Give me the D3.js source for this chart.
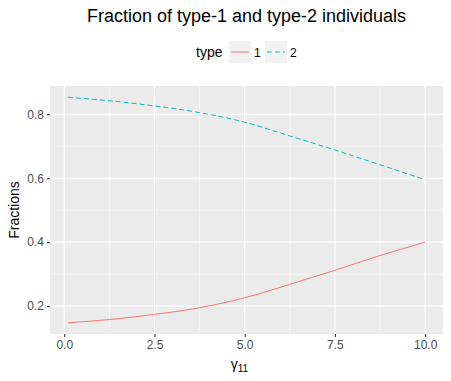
<!DOCTYPE html>
<html>
<head>
<meta charset="utf-8">
<script src="https://cdn.jsdelivr.net/npm/d3@7"></script>
<style>
  body { margin: 0; background: #fff; }
  text { font-family: "Liberation Sans", Arial, sans-serif; }
</style>
</head>
<body>
<svg id="chart" width="451" height="381"></svg>
<script>
// values
var gamma = [0.1, 1.25, 2.5, 3.75, 5.0, 6.25, 7.5, 8.75, 10.0];
var type1 = [0.148, 0.158, 0.174, 0.195, 0.226, 0.268, 0.312, 0.358, 0.400];
var type2 = [0.853, 0.842, 0.826, 0.805, 0.775, 0.732, 0.688, 0.642, 0.595];
var xTicks = [0, 2.5, 5, 7.5, 10];
var yTicks = [0.2, 0.4, 0.6, 0.8];
var types = ["1", "2"];
var colors = ["#F8766D", "#00BFC4"];
var dashes = [null, "5,3"];

var svg = d3.select("#chart");
var margin = {left: 50, right: 8, top: 86, bottom: 47};
var width = 451 - margin.left - margin.right;
var height = 381 - margin.top - margin.bottom;

var x = d3.scaleLinear().domain([-0.395, 10.495]).range([0, width]);
var y = d3.scaleLinear().domain([0.1128, 0.8882]).range([height, 0]);

var g = svg.append("g").attr("transform", "translate(" + margin.left + "," + margin.top + ")");

g.append("rect").attr("width", width).attr("height", height).attr("fill", "#EBEBEB");

// minor grid
var xMinor = [1.25, 3.75, 6.25, 8.75];
var yMinor = [0.3, 0.5, 0.7];
g.selectAll(".xminor").data(xMinor).enter().append("line")
    .attr("x1", function(d) { return x(d); }).attr("x2", function(d) { return x(d); })
    .attr("y1", 0).attr("y2", height)
    .attr("stroke", "#fff").attr("stroke-width", 0.55);
g.selectAll(".yminor").data(yMinor).enter().append("line")
    .attr("y1", function(d) { return y(d); }).attr("y2", function(d) { return y(d); })
    .attr("x1", 0).attr("x2", width)
    .attr("stroke", "#fff").attr("stroke-width", 0.55);

// major grid
g.selectAll(".xmajor").data(xTicks).enter().append("line")
    .attr("x1", function(d) { return x(d); }).attr("x2", function(d) { return x(d); })
    .attr("y1", 0).attr("y2", height)
    .attr("stroke", "#fff").attr("stroke-width", 1.1);
g.selectAll(".ymajor").data(yTicks).enter().append("line")
    .attr("y1", function(d) { return y(d); }).attr("y2", function(d) { return y(d); })
    .attr("x1", 0).attr("x2", width)
    .attr("stroke", "#fff").attr("stroke-width", 1.1);

// lines
var line = d3.line()
    .x(function(d) { return x(d[0]); })
    .y(function(d) { return y(d[1]); })
    .curve(d3.curveMonotoneX);

[type1, type2].forEach(function(s, i) {
    g.append("path")
        .datum(gamma.map(function(v, j) { return [v, s[j]]; }))
        .attr("d", line)
        .attr("fill", "none")
        .attr("stroke", colors[i])
        .attr("stroke-width", 1)
        .attr("stroke-dasharray", dashes[i]);
});

// axes
var xAxis = g.append("g").attr("transform", "translate(0," + height + ")")
    .call(d3.axisBottom(x).tickValues(xTicks).tickFormat(d3.format(".1f")).tickSize(3).tickPadding(3));
var yAxis = g.append("g")
    .call(d3.axisLeft(y).tickValues(yTicks).tickFormat(d3.format(".1f")).tickSize(3).tickPadding(3));
[xAxis, yAxis].forEach(function(a) {
    a.select(".domain").remove();
    a.selectAll(".tick line").attr("stroke", "#333333").attr("stroke-width", 1.1);
    a.selectAll(".tick text").attr("fill", "#4D4D4D").style("font-size", "12px")
        .style("font-family", "'Liberation Sans', Arial, sans-serif");
});

// titles
svg.append("text")
    .attr("x", margin.left + width / 2).attr("y", 22)
    .attr("text-anchor", "middle").style("font-size", "18px").attr("fill", "#000")
    .text("Fraction of type-1 and type-2 individuals");

svg.append("text")
    .attr("transform", "translate(19," + (margin.top + height / 2) + ") rotate(-90)")
    .attr("text-anchor", "middle").style("font-size", "14px").attr("fill", "#000")
    .text("Fractions");

var xl = svg.append("text")
    .attr("x", margin.left + width / 2 - 7).attr("y", 369)
    .attr("text-anchor", "middle").style("font-size", "14px").attr("fill", "#000");
xl.append("tspan").text("γ");
xl.append("tspan").attr("dy", 3).style("font-size", "10px").text("11");

// legend
var leg = svg.append("g");
leg.append("text").attr("x", 196).attr("y", 57).style("font-size", "14px").attr("fill", "#000").text("type");
var keyX = [229, 265];
types.forEach(function(t, i) {
    leg.append("rect").attr("x", keyX[i]).attr("y", 41).attr("width", 22).attr("height", 22).attr("fill", "#F2F2F2");
    leg.append("line")
        .attr("x1", keyX[i] + 2).attr("x2", keyX[i] + 20)
        .attr("y1", 52).attr("y2", 52)
        .attr("stroke", colors[i]).attr("stroke-width", 1)
        .attr("stroke-dasharray", dashes[i]);
    leg.append("text").attr("x", keyX[i] + 25).attr("y", 56.5)
        .style("font-size", "12px").attr("fill", "#000").text(t);
});
</script>
</body>
</html>
